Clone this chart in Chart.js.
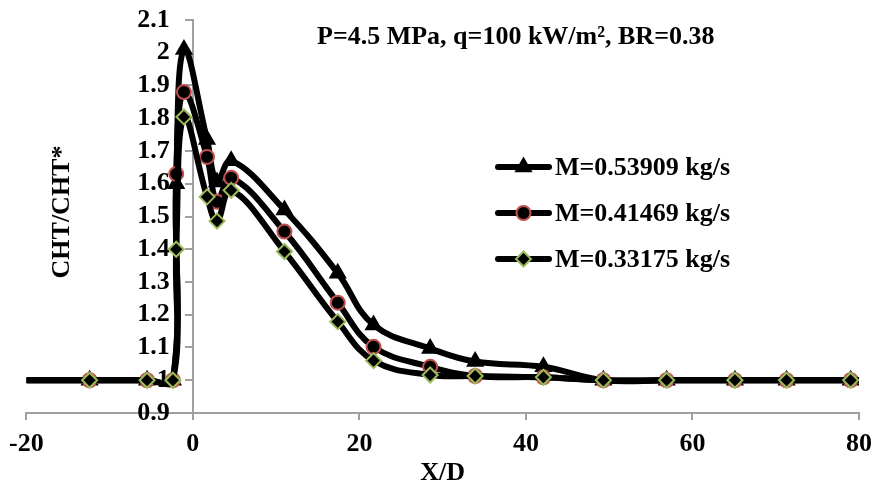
<!DOCTYPE html>
<html>
<head>
<meta charset="utf-8">
<script src="https://cdn.jsdelivr.net/npm/chart.js@4.4.1/dist/chart.umd.min.js"></script>
<style>
    html, body { margin: 0; padding: 0; background: #fff; }
</style>
</head>
<body>
<canvas id="cht" width="881" height="488"></canvas>
<script>
// X/D positions shared by all three series
const xOverD = [-20, -12.4, -5.5, -2.4, -2.0, -1.07, 1.7, 2.9, 4.6, 11.0, 17.4, 21.7, 28.5, 33.9, 42.1, 49.3, 56.9, 65.1, 71.3, 79.0, 80];

// CHT/CHT* for each mass flow
const chtM053909 = [1, 1, 1, 1, 1.60, 2.01, 1.735, 1.605, 1.67, 1.52, 1.327, 1.169, 1.097, 1.057, 1.041, 1, 1, 1, 1, 1, 1];
const chtM041469 = [1, 1, 1, 1, 1.63, 1.88, 1.682, 1.545, 1.618, 1.454, 1.237, 1.102, 1.041, 1.013, 1.009, 1, 1, 1, 1, 1, 1];
const chtM033175 = [1, 1, 1, 1, 1.40, 1.804, 1.56, 1.486, 1.58, 1.393, 1.179, 1.06, 1.016, 1.013, 1.009, 1, 1, 1, 1, 1, 1];

const seriesLabels = ['M=0.53909 kg/s', 'M=0.41469 kg/s', 'M=0.33175 kg/s'];
const chartTitle = 'P=4.5 MPa, q=100 kW/m\u00b2, BR=0.38';
const xTitle = 'X/D';
const yTitle = 'CHT/CHT*';

const FONT = '"Liberation Serif", "Times New Roman", serif';
const AXIS_GREY = '#a0a0a0';

Chart.defaults.font.family = FONT;
Chart.defaults.font.weight = 'bold';
Chart.defaults.font.size = 26;
Chart.defaults.color = '#000';

const toPoints = ys => ys.map((y, i) => ({ x: xOverD[i], y }));
const lastIdx = xOverD.length - 1;
// the end points of the curves carry no marker
const markerRadius = r => ctx => (ctx.dataIndex === 0 || ctx.dataIndex === lastIdx) ? 0 : r;

const series = [
    { data: chtM053909, style: 'triangle', radius: 8.5, border: '#000', order: 3 },
    { data: chtM041469, style: 'circle', radius: 7, border: '#c0504d', order: 2 },
    { data: chtM033175, style: 'rectRot', radius: 7.5, border: '#9bbb59', order: 1 }
];

// title + legend drawn inside the plot like the original
const overlayPlugin = {
    id: 'overlay',
    beforeDraw(chart) {
        // y tick labels sit a little left of the axis line
        const items = chart.scales.y.getLabelItems(chart.chartArea);
        items.forEach(it => {
            if (!it._shifted) {
                it.options.translation[0] -= 23;
                it._shifted = true;
            }
        });
    },
    afterDraw(chart) {
        const ctx = chart.ctx;
        ctx.save();
        ctx.fillStyle = '#000';
        ctx.font = 'bold 26px ' + FONT;
        ctx.textAlign = 'left';
        ctx.textBaseline = 'alphabetic';
        ctx.fillText(chartTitle, 317, 44);

        // y axis title
        ctx.save();
        ctx.translate(69, 212);
        ctx.rotate(-Math.PI / 2);
        ctx.textAlign = 'center';
        ctx.fillText(yTitle, 0, 0);
        ctx.restore();

        // legend
        chart.data.datasets.forEach((ds, i) => {
            const y = 167 + i * 46;
            ctx.strokeStyle = '#000';
            ctx.lineWidth = 6;
            ctx.lineCap = 'round';
            ctx.beginPath();
            ctx.moveTo(498, y);
            ctx.lineTo(549, y);
            ctx.stroke();
            ctx.fillStyle = '#000';
            ctx.strokeStyle = ds.pointBorderColor;
            ctx.lineWidth = ds.pointBorderWidth;
            Chart.helpers.drawPoint(ctx, { pointStyle: ds.pointStyle, radius: series[i].radius, rotation: 0, borderWidth: ds.pointBorderWidth }, 523.5, y);
            ctx.fillStyle = '#000';
            ctx.textBaseline = 'middle';
            ctx.fillText(ds.label, 555, y + 1);
        });
        ctx.restore();
    }
};

new Chart(document.getElementById('cht'), {
    type: 'line',
    data: {
        datasets: series.map((s, i) => ({
            label: seriesLabels[i],
            data: toPoints(s.data),
            borderColor: '#000',
            borderWidth: 6,
            tension: 0.4,
            pointStyle: s.style,
            pointRadius: markerRadius(s.radius),
            pointBackgroundColor: '#000',
            pointBorderColor: s.border,
            pointBorderWidth: 2,
            order: s.order
        }))
    },
    options: {
        responsive: false,
        animation: false,
        devicePixelRatio: 1,
        layout: { padding: { left: 26, right: 15, top: 20, bottom: 0 } },
        plugins: {
            legend: { display: false },
            tooltip: { enabled: false }
        },
        scales: {
            x: {
                type: 'linear',
                position: 'bottom',
                min: -20,
                max: 80,
                ticks: { stepSize: 20, padding: 9, maxRotation: 0, autoSkip: false },
                grid: { drawOnChartArea: false, color: AXIS_GREY, lineWidth: 2, tickLength: 7 },
                border: { color: AXIS_GREY, width: 2 },
                title: { display: true, text: xTitle, padding: { top: 0, bottom: 0 }, font: { lineHeight: 1.1 } },
                afterFit: s => { s.height = 75; }
            },
            y: {
                type: 'linear',
                position: { x: 0 },
                min: 0.9,
                max: 2.1,
                ticks: {
                    stepSize: 0.1,
                    autoSkip: false,
                    callback: v => String(+v.toFixed(1))
                },
                grid: { drawOnChartArea: false, color: AXIS_GREY, lineWidth: 2, tickLength: 7 },
                border: { color: AXIS_GREY, width: 2 }
            }
        }
    },
    plugins: [overlayPlugin]
});
</script>
</body>
</html>
